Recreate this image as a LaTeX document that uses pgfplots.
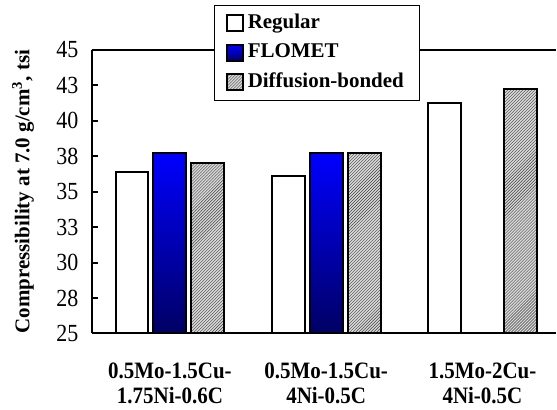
\documentclass[border=0pt]{standalone}
\usepackage{pgfplots}
\pgfplotsset{compat=1.18}
\usepackage{fontspec}
\setmainfont{Liberation Serif}
\usetikzlibrary{patterns}
\definecolor{navy}{RGB}{0,0,100}
\newcommand{\vs}[1]{\scalebox{1}[1.12]{#1}}
\begin{document}
\begin{tikzpicture}
\begin{axis}[
  name=ax,
  scale only axis,
  width=465pt, height=284pt,
  xmin=-0.5, xmax=2.471,
  ymin=25, ymax=45,
  ybar=5pt, bar width=33pt,
  axis x line*=bottom, axis y line*=left,
  axis line style={line width=2pt},
  xtick={0,1,2},
  xticklabels={{\vs{0.5Mo-1.5Cu-}\\\vs{1.75Ni-0.6C}},{\vs{0.5Mo-1.5Cu-}\\\vs{4Ni-0.5C}},{\vs{1.5Mo-2Cu-}\\\vs{4Ni-0.5C}}},
  x tick label style={align=center, font=\fontsize{21}{25}\selectfont\bfseries, yshift=-26pt},
  x tick style={draw=none},
  ytick={25,27.5,30,32.5,35,37.5,40,42.5,45},
  yticklabels={\vs{25},\vs{28},\vs{30},\vs{33},\vs{35},\vs{38},\vs{40},\vs{43},\vs{45}},
  y tick label style={font=\fontsize{22}{24}\selectfont, xshift=-10pt},
  y tick style={line width=2pt, black},
  major tick length=6pt,
  tick align=inside,
  /pgf/number format/assume math mode=true,
  ylabel={Compressibility at 7.0 g/cm\textsuperscript{3}, tsi},
  ylabel style={font=\fontsize{21}{24}\selectfont\bfseries, at={(axis description cs:-0.148,0.5)}, anchor=center},
  legend image code/.code={\draw[#1, line width=1.8pt] (0pt,-8pt) rectangle (16pt,8pt);},
  legend style={at={(axis description cs:0,1)}, anchor=north west, xshift=122pt, yshift=45pt,
    draw=black, line width=0.8pt, fill=white, font=\fontsize{21}{24}\selectfont\bfseries,
    nodes={inner xsep=4pt, inner ysep=2pt, text height=14pt, text depth=4pt},
    row sep=7.5pt, cells={anchor=west}, inner xsep=12pt, inner ysep=7pt},
]
\draw[line width=2pt] (rel axis cs:0,1) -- (rel axis cs:1,1);
\addplot[fill=white, draw=black, line width=2pt] coordinates {(0,36.4) (1,36.1) (2,41.25)};
\addplot[top color=blue, bottom color=navy, draw=black, line width=2pt] coordinates {(0,37.7) (1,37.7)};
\addplot[fill=gray!30, postaction={pattern=north east lines, pattern color=black!75}, draw=black, line width=2pt] coordinates {(0,37.0) (1,37.7) (2,42.25)};
\legend{Regular,FLOMET,Diffusion-bonded}
\end{axis}
\path ([xshift=-92pt,yshift=-76pt]ax.south west) rectangle ([yshift=50pt]ax.north east);
\end{tikzpicture}
\end{document}
